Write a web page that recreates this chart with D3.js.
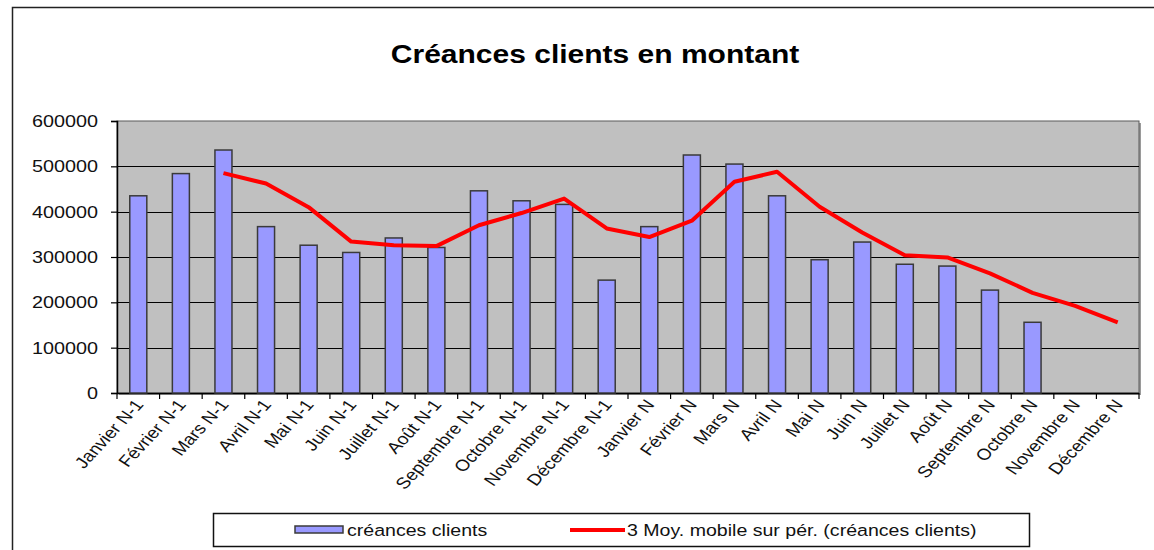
<!DOCTYPE html>
<html>
<head>
<meta charset="utf-8">
<script src="https://cdn.jsdelivr.net/npm/d3@7"></script>
<style>
  html, body { margin: 0; padding: 0; background: #fff; }
  svg { display: block; font-family: "Liberation Sans", Arial, sans-serif; }
</style>
</head>
<body>
<svg id="chart" width="1154" height="550"></svg>
<script>
// months shown on the x axis
var months = ["Janvier N-1", "Février N-1", "Mars N-1", "Avril N-1", "Mai N-1", "Juin N-1",
    "Juillet N-1", "Août N-1", "Septembre N-1", "Octobre N-1", "Novembre N-1", "Décembre N-1",
    "Janvier N", "Février N", "Mars N", "Avril N", "Mai N", "Juin N",
    "Juillet N", "Août N", "Septembre N", "Octobre N", "Novembre N", "Décembre N"];

// bars : créances clients
var creances = [435000, 484000, 536000, 367000, 326000, 310000, 342000, 321000, 446000, 424000,
    416000, 249000, 367000, 525000, 505000, 435000, 294000, 333000, 284000, 280000,
    227000, 156000, null, null];

// red line : 3 Moy. mobile
var moyMobile = [null, null, 485000, 462000, 410000, 334000, 326000, 324000, 370000, 397000,
    429000, 363000, 344000, 380000, 466000, 488000, 411000, 354000, 304000, 299000,
    264000, 221000, 192000, 156000];

var yTicks = [0, 100000, 200000, 300000, 400000, 500000, 600000];

var svg = d3.select("#chart");
var plot = {left: 117, top: 121, right: 1139, bottom: 393};
var sx = 1.2; // the original picture is stretched horizontally

// outer frame
svg.append("rect")
    .attr("x", 12.5).attr("y", 7.5)
    .attr("width", 1160).attr("height", 600)
    .attr("fill", "#fff")
    .attr("stroke", "#222")
    .attr("stroke-width", 1.5);

// title
svg.append("text")
    .attr("transform", "translate(595,63) scale(" + sx + ",1)")
    .attr("text-anchor", "middle")
    .attr("font-size", 25)
    .attr("font-weight", "bold")
    .text("Créances clients en montant");

var x = d3.scaleBand()
    .domain(months)
    .range([plot.left, plot.right])
    .paddingInner(0.6)
    .paddingOuter(0.3);

var xPos = d3.scaleBand()
    .domain(months)
    .range([plot.left, plot.right]);

var y = d3.scaleLinear()
    .domain([0, 600000])
    .range([plot.bottom, plot.top]);

// plot area background + shadow
svg.append("rect")
    .attr("x", plot.left + 2).attr("y", plot.top + 2)
    .attr("width", plot.right - plot.left).attr("height", plot.bottom - plot.top)
    .attr("fill", "#9a9a9a");
svg.append("rect")
    .attr("x", plot.left).attr("y", plot.top)
    .attr("width", plot.right - plot.left).attr("height", plot.bottom - plot.top)
    .attr("fill", "#c0c0c0")
    .attr("stroke", "#5a5a5a")
    .attr("stroke-width", 1);

// gridlines
svg.append("g")
    .selectAll("line")
    .data(yTicks.filter(function(d) { return d > 0 && d < 600000; }))
    .enter().append("line")
    .attr("x1", plot.left).attr("x2", plot.right)
    .attr("y1", function(d) { return Math.round(y(d)) + 0.5; })
    .attr("y2", function(d) { return Math.round(y(d)) + 0.5; })
    .attr("stroke", "#000")
    .attr("stroke-width", 1.2);

// y axis
var yAxis = svg.append("g")
    .attr("transform", "translate(" + plot.left + ",0)")
    .call(d3.axisLeft(y).tickValues(yTicks).tickSize(6).tickPadding(0).tickFormat(d3.format("d")));
yAxis.select(".domain").attr("stroke", "#000").attr("stroke-width", 1.5);
yAxis.selectAll(".tick line").attr("stroke", "#000").attr("stroke-width", 1.2);
yAxis.selectAll(".tick text")
    .attr("x", null)
    .attr("dy", null)
    .attr("font-size", 16.5)
    .attr("font-family", "Liberation Sans, Arial, sans-serif")
    .attr("fill", "#111")
    .attr("dominant-baseline", "central")
    .attr("transform", "translate(-19,0) scale(" + sx + ",1)");

// x axis line + ticks at category boundaries
var xa = svg.append("g");
xa.append("line")
    .attr("x1", plot.left).attr("x2", plot.right)
    .attr("y1", plot.bottom + 0.5).attr("y2", plot.bottom + 0.5)
    .attr("stroke", "#000").attr("stroke-width", 1.5);
xa.selectAll(".xt")
    .data(months.concat(["end"]))
    .enter().append("line")
    .attr("class", "xt")
    .attr("x1", function(d, i) { return i < months.length ? xPos(d) : plot.right; })
    .attr("x2", function(d, i) { return i < months.length ? xPos(d) : plot.right; })
    .attr("y1", plot.bottom).attr("y2", plot.bottom + 6)
    .attr("stroke", "#000").attr("stroke-width", 1.2);

xa.selectAll(".xl")
    .data(months)
    .enter().append("text")
    .attr("class", "xl")
    .attr("text-anchor", "end")
    .attr("font-size", 16)
    .attr("fill", "#111")
    .attr("transform", function(d) {
        return "translate(" + (xPos(d) + xPos.bandwidth() / 2 + 6) + "," + (plot.bottom + 12) +
            ") scale(" + sx + ",1) rotate(-52)";
    })
    .text(function(d) { return d; });

// bars
svg.append("g")
    .selectAll("rect")
    .data(months.map(function(m, i) { return {m: m, v: creances[i]}; })
        .filter(function(d) { return d.v != null; }))
    .enter().append("rect")
    .attr("x", function(d) { return x(d.m); })
    .attr("y", function(d) { return y(d.v); })
    .attr("width", x.bandwidth())
    .attr("height", function(d) { return plot.bottom - y(d.v); })
    .attr("fill", "#9999ff")
    .attr("stroke", "#3a3a3a")
    .attr("stroke-width", 1.5);

// moving average line
var line = d3.line()
    .defined(function(d) { return d.v != null; })
    .x(function(d) { return xPos(d.m) + xPos.bandwidth() / 2; })
    .y(function(d) { return y(d.v); });

svg.append("path")
    .datum(months.map(function(m, i) { return {m: m, v: moyMobile[i]}; }))
    .attr("d", line)
    .attr("fill", "none")
    .attr("stroke", "#ff0000")
    .attr("stroke-width", 4)
    .attr("stroke-linejoin", "round");

// legend
var lg = svg.append("g");
lg.append("rect")
    .attr("x", 213.5).attr("y", 513.5)
    .attr("width", 816).attr("height", 33)
    .attr("fill", "#fff")
    .attr("stroke", "#111")
    .attr("stroke-width", 1.5);
lg.append("rect")
    .attr("x", 295).attr("y", 526)
    .attr("width", 48).attr("height", 7)
    .attr("fill", "#9999ff")
    .attr("stroke", "#3a3a3a")
    .attr("stroke-width", 1.5);
lg.append("text")
    .attr("transform", "translate(347,536) scale(" + sx + ",1)")
    .attr("font-size", 16.3)
    .attr("fill", "#111")
    .text("créances clients");
lg.append("line")
    .attr("x1", 570).attr("x2", 625)
    .attr("y1", 530).attr("y2", 530)
    .attr("stroke", "#ff0000")
    .attr("stroke-width", 4);
lg.append("text")
    .attr("transform", "translate(627,536) scale(" + sx + ",1)")
    .attr("font-size", 16.3)
    .attr("fill", "#111")
    .text("3 Moy. mobile sur pér. (créances clients)");
</script>
</body>
</html>
